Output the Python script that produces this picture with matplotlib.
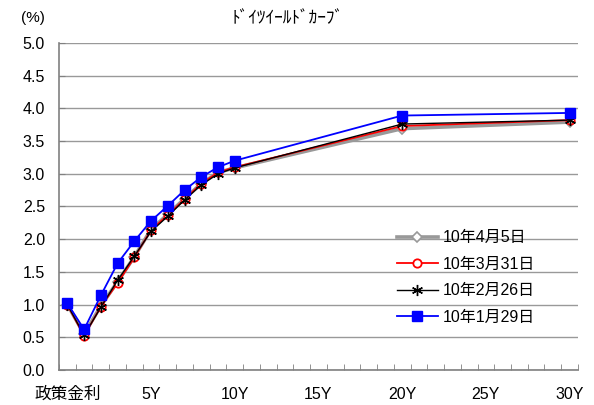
import matplotlib.pyplot as plt
from matplotlib.ticker import FixedLocator, MultipleLocator

plt.rcParams['font.family'] = ['Liberation Sans', 'Noto Sans CJK JP', 'DejaVu Sans']

# maturities (0 = policy rate)
maturity = [0, 1, 2, 3, 4, 5, 6, 7, 8, 9, 10, 20, 30]
xtick_pos = [0, 5, 10, 15, 20, 25, 30]
xtick_labels = ['政策金利', '5Y', '10Y', '15Y', '20Y', '25Y', '30Y']

apr05 = [1.00, 0.55, 0.98, 1.35, 1.73, 2.15, 2.38, 2.62, 2.85, 3.02, 3.09, 3.69, 3.79]
mar31 = [1.00, 0.52, 0.97, 1.33, 1.72, 2.14, 2.37, 2.61, 2.85, 3.02, 3.10, 3.73, 3.82]
feb26 = [1.00, 0.53, 0.96, 1.37, 1.74, 2.12, 2.35, 2.60, 2.83, 3.00, 3.09, 3.76, 3.82]
jan29 = [1.02, 0.62, 1.14, 1.63, 1.97, 2.28, 2.51, 2.75, 2.95, 3.10, 3.20, 3.89, 3.93]

fig = plt.figure(figsize=(5.94, 4.05), dpi=100)
ax = fig.add_axes([0.0993, 0.0864, 0.8737, 0.8076])

ax.plot(maturity, apr05, color='#999999', lw=2.6, marker='D', ms=5,
        mfc='white', mec='#999999', mew=1.2, label='10年4月5日')
ax.plot(maturity, mar31, color='#ff0000', lw=1.3, marker='o', ms=6,
        mfc='white', mec='#ff0000', mew=1.3, label='10年3月31日')
ax.plot(maturity, feb26, color='black', lw=1.0, marker=(6, 2, 0), ms=8,
        mew=1.0, label='10年2月26日')
ax.plot(maturity, jan29, color='#0000ff', lw=1.3, marker='s', ms=7,
        mfc='#0000ff', mec='#0000ff', label='10年1月29日')

ax.set_xlim(-0.5, 30.5)
ax.set_ylim(0, 5.0)
ax.yaxis.set_major_locator(MultipleLocator(0.5))
ax.yaxis.set_major_formatter(plt.FormatStrFormatter('%.1f'))
ax.grid(axis='y', color='#999999', lw=1.0)
ax.set_axisbelow(True)

ax.xaxis.set_major_locator(FixedLocator(xtick_pos))
ax.set_xticklabels(xtick_labels)
ax.xaxis.set_minor_locator(FixedLocator([i - 0.5 for i in range(32)]))
ax.tick_params(axis='x', which='major', length=0, pad=12, labelsize=11.5)
ax.tick_params(axis='x', which='minor', direction='in', length=4, color='#808080')
ax.tick_params(axis='y', direction='in', length=4, color='#808080', pad=10, labelsize=11.5)
ax.get_xticklabels()[0].set_fontsize(12)

for s in ['top', 'right']:
    ax.spines[s].set_visible(False)
for s in ['left', 'bottom']:
    ax.spines[s].set_color('#808080')
    ax.spines[s].set_linewidth(1.2)

fig.text(0.035, 0.955, '(%)', fontsize=11, va='center')
fig.text(0.485, 0.955, 'ﾄﾞｲﾂｲｰﾙﾄﾞｶｰﾌﾞ', fontsize=12.5, ha='center', va='center',
         family=['Noto Sans CJK JP', 'DejaVu Sans'])

ax.legend(loc='upper left', bbox_to_anchor=(0.657, 0.447), bbox_transform=fig.transFigure,
          frameon=False, fontsize=11.5, handlelength=2.6, labelspacing=0.72,
          handletextpad=0.3, borderaxespad=0)

fig.savefig('out.png')
